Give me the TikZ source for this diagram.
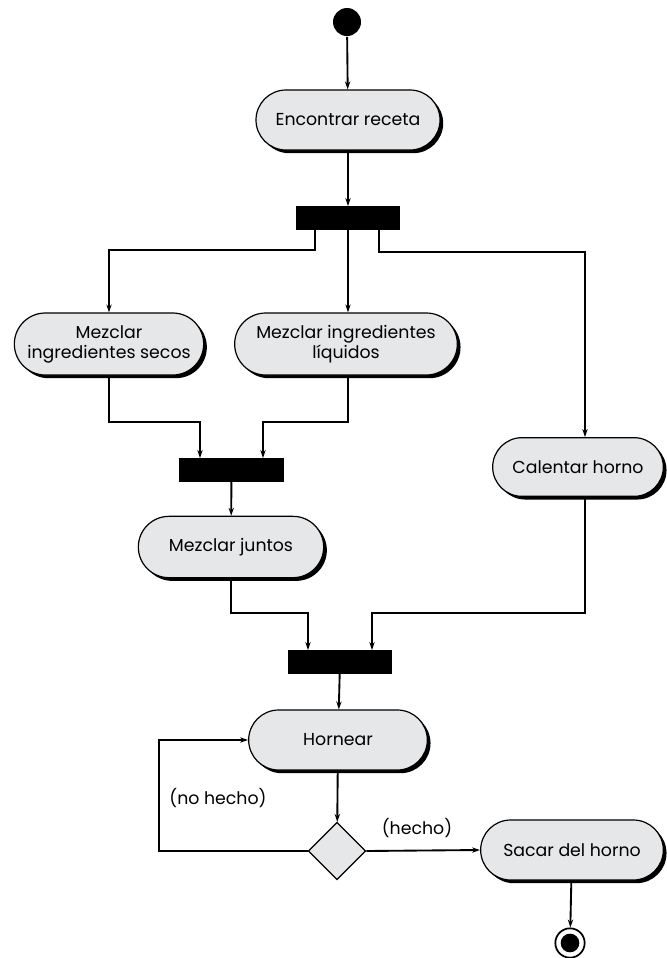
\documentclass[tikz,border=0pt]{standalone}
\usepackage{fontspec}
\setmainfont{Poppins}
\usepackage{xcolor}
\usepackage{tikz}
\usetikzlibrary{shapes,shapes.misc,shapes.geometric,arrows.meta,positioning,calc,shadows}

\definecolor{actgray}{RGB}{230,231,232}

\begin{document}
\begin{tikzpicture}[
        x=0.75pt, y=-0.75pt, line width=1.4pt,
        >={Stealth[length=6pt,width=4pt]},
        activity/.style={draw, rounded rectangle, fill=actgray, line width=0.9pt,
                         align=center, font=\fontsize{13}{15}\selectfont,
                         inner sep=1pt,
                         drop shadow={shadow xshift=2.4pt, shadow yshift=-2.4pt,
                                      fill=black, opacity=1}},
        bar/.style={draw, fill=black, minimum width=77pt, minimum height=16.5pt,
                    inner sep=0pt},
        guard/.style={font=\fontsize{13}{15}\selectfont}
    ]
        \useasboundingbox (0,0) rectangle (667,958);

        % start / end
        \node[circle, fill=black, minimum size=21pt, inner sep=0pt] (start) at (347,22) {};
        \node[circle, draw, line width=1.3pt, minimum size=22pt, inner sep=0pt] (stop) at (570,943) {};
        \node[circle, fill=black, minimum size=14pt, inner sep=0pt] (stopdot) at (stop) {};

        % activities
        \node[activity, minimum width=140pt, minimum height=45pt] (recipe) at (348,120) {Encontrar receta};
        \node[activity, minimum width=144pt, minimum height=46.5pt] (dry) at (109,344) {Mezclar\\ingredientes secos};
        \node[activity, minimum width=169pt, minimum height=46.5pt] (wet) at (346,344) {Mezclar ingredientes\\líquidos};
        \node[activity, minimum width=141pt, minimum height=46pt] (mix) at (231,547) {Mezclar juntos};
        \node[activity, minimum width=130pt, minimum height=44pt] (oven) at (578,467) {Calentar horno};
        \node[activity, minimum width=136pt, minimum height=45pt] (bake) at (338,740) {Hornear};
        \node[activity, minimum width=139pt, minimum height=45pt] (out) at (572,850) {Sacar del horno};

        % fork / join bars
        \node[bar] (fork) at (348,218) {};
        \node[bar] (joinA) at (231.5,470) {};
        \node[bar] (joinB) at (340,662) {};

        % decision
        \node[diamond, draw, fill=actgray, line width=0.9pt, minimum size=43pt, inner sep=0pt] (done) at (337,851) {};

        % flows
        \draw[->] (start) -- (recipe);
        \draw[->] (recipe) -- (fork);
        \draw[->] ($(fork.south)+(-33,0)$) |- ($(dry.north)+(0,-62)$) -- (dry.north);
        \draw[->] (fork.south) -- (fork.south |- wet.north);
        \draw[->] ($(fork.south)+(31,0)$) |- ($(oven.north)+(7,-185)$) -- ($(oven.north)+(7,0)$);

        \draw[->] (dry.south) |- ($(joinA.north)+(-31.5,-36)$) -- ($(joinA.north)+(-31.5,0)$);
        \draw[->] ($(wet.south)+(2,0)$) |- ($(joinA.north)+(31.5,-36)$) -- ($(joinA.north)+(31.5,0)$);
        \draw[->] (joinA) -- (mix);

        \draw[->] (mix.south) |- ($(joinB.north)+(-32,-37)$) -- ($(joinB.north)+(-32,0)$);
        \draw[->] ($(oven.south)+(7,0)$) |- ($(joinB.north)+(32,-37)$) -- ($(joinB.north)+(32,0)$);
        \draw[->] (joinB) -- (bake);

        \draw[->] (bake) -- (done);
        \draw[->] (done.east) -- (out.west);
        \draw[->] (done.west) -- (159,851) |- (bake.west);
        \draw[->] (out) -- (stop);

        % guards
        \node[guard] (yes) at (417,828) {(hecho)};
        \node[guard] (no) at (218,798) {(no hecho)};
    \end{tikzpicture}
\end{document}
